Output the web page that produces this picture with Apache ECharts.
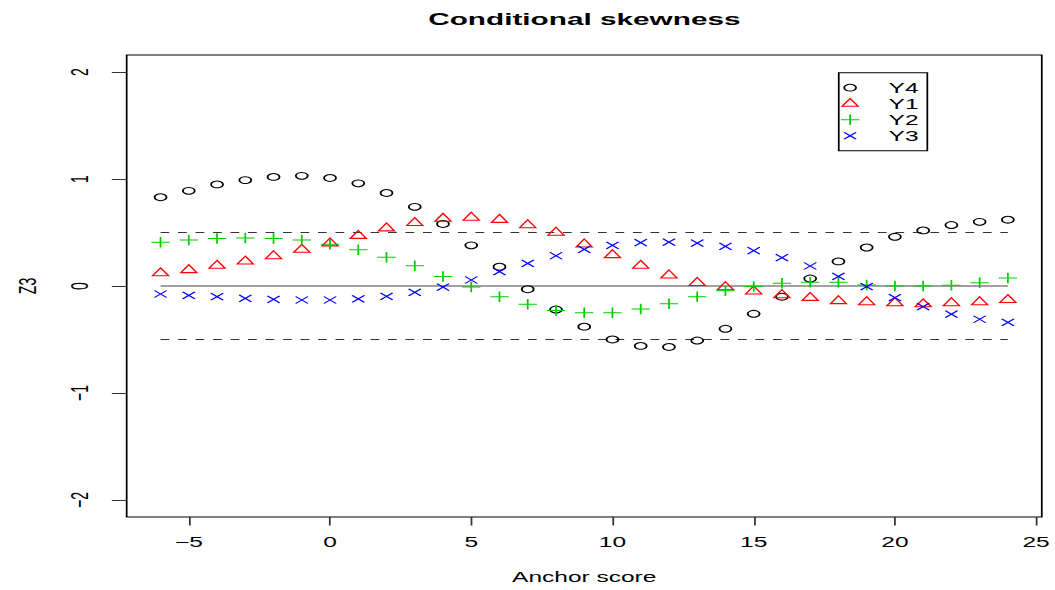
<!DOCTYPE html>
<html><head><meta charset="utf-8">
<script src="https://cdn.jsdelivr.net/npm/echarts@6/dist/echarts.min.js"></script>
<style>
html,body{margin:0;padding:0;background:#fff;overflow:hidden;width:1055px;height:590px}
#wrap{width:1055px;height:590px;overflow:hidden;position:relative}
#chart{width:603px;height:590px;transform:scaleX(1.749585);transform-origin:0 0;position:absolute;left:0;top:0}
</style>
</head><body><div id="wrap"><div id="chart"></div></div>
<script>
// ---- data ----
const anchors = [-6,-5,-4,-3,-2,-1,0,1,2,3,4,5,6,7,8,9,10,11,12,13,14,15,16,17,18,19,20,21,22,23,24];
const Y4 = [0.83,0.89,0.95,0.99,1.02,1.03,1.01,0.96,0.87,0.74,0.58,0.38,0.18,-0.03,-0.22,-0.38,-0.50,-0.56,-0.57,-0.51,-0.40,-0.26,-0.10,0.07,0.23,0.36,0.46,0.52,0.57,0.60,0.62];
const Y1 = [0.12,0.15,0.19,0.23,0.28,0.34,0.40,0.47,0.54,0.59,0.63,0.64,0.62,0.57,0.50,0.39,0.29,0.19,0.10,0.03,-0.01,-0.05,-0.085,-0.11,-0.14,-0.15,-0.16,-0.17,-0.16,-0.15,-0.13];
const Y2 = [0.41,0.43,0.445,0.45,0.445,0.43,0.39,0.34,0.27,0.19,0.09,-0.01,-0.10,-0.17,-0.23,-0.25,-0.25,-0.215,-0.165,-0.10,-0.045,-0.005,0.025,0.034,0.034,0.01,0.0,0.0,0.006,0.03,0.075];
const Y3 = [-0.075,-0.087,-0.10,-0.115,-0.125,-0.131,-0.131,-0.121,-0.097,-0.059,-0.01,0.056,0.134,0.212,0.283,0.343,0.38,0.405,0.41,0.40,0.37,0.33,0.265,0.187,0.09,-0.006,-0.109,-0.193,-0.263,-0.311,-0.34];
const refSolid = [0];
const refDashed = [0.5, -0.5];
const xTicks = [-5,0,5,10,15,20,25];
const yTicks = [-2,-1,0,1,2];
const seriesNames = ['Y4','Y1','Y2','Y3'];

// ---- rendering ----
const FONT = 'Liberation Sans';
const chart = echarts.init(document.getElementById('chart'), null, {renderer:'svg'});
const pts = vals => anchors.map((x,i)=>[x, vals[i]]);
const xFirst = anchors[0], xLast = anchors[anchors.length-1];
const fmt = v => (v < 0 ? '\u2212' + Math.abs(v) : String(v));
const clear = 'rgba(0,0,0,0)';

const triPath = 'path://M0,1.555M0,-1.555L1.347,0.777L-1.347,0.777Z';
const plusPath = 'path://M-1,0L1,0M0,-1L0,1';
const crossPath = 'path://M-1,-1L1,1M-1,1L1,-1';

const legCircle = 'path://M0,0M12,12M9.4,6A3.4,3.4,0,1,1,2.6,6A3.4,3.4,0,1,1,9.4,6Z';
const legTri = 'path://M0,0M12,12M6,0.71L10.58,8.64L1.42,8.64Z';
const legPlus = 'path://M0,0M12,12M0.75,6L11.25,6M6,0.75L6,11.25';
const legCross = 'path://M0,0M12,12M2.6,2.6L9.4,9.4M2.6,9.4L9.4,2.6';

const colors = {Y4:'#000000', Y1:'#FF0000', Y2:'#00CD00', Y3:'#0000FF'};

function refLine(level, dashed){
  return {type:'line', data:[[xFirst, level],[xLast, level]], symbol:'none', silent:true,
    lineStyle:{color: dashed ? '#333333' : '#444444', width:1, type: dashed ? [5,5] : 'solid'},
    emphasis:{disabled:true}, z:1};
}
function scat(name, vals, symbol, size){
  return {type:'scatter', name, data:pts(vals), symbol, symbolSize:size, silent:true,
    itemStyle:{color:clear, borderColor:colors[name], borderWidth:1, opacity:1},
    emphasis:{disabled:true}, z:3};
}

chart.setOption({
  animation:false,
  title:{text:'Conditional skewness', left:334, top:11, textAlign:'center', padding:0,
    textStyle:{fontFamily:FONT, fontSize:17, fontWeight:'bold', color:'#000'}},
  grid:{left:72.4, right:7.4, top:55, bottom:73, show:true, borderColor:'#000', borderWidth:1, backgroundColor:'transparent'},
  legend:{orient:'vertical', left:479.4, top:72.7, padding:[7,5,7,0], itemWidth:22, itemHeight:12, itemGap:0,
    borderColor:'#000', borderWidth:1, selectedMode:false,
    textStyle:{fontFamily:FONT, fontSize:14, color:'#000', lineHeight:16, padding:[0,0,0,6]},
    data:[
      {name:'Y4', icon:legCircle, itemStyle:{color:clear, borderColor:colors.Y4, borderWidth:1}},
      {name:'Y1', icon:legTri, itemStyle:{color:clear, borderColor:colors.Y1, borderWidth:1}},
      {name:'Y2', icon:legPlus, itemStyle:{color:clear, borderColor:colors.Y2, borderWidth:1}},
      {name:'Y3', icon:legCross, itemStyle:{color:clear, borderColor:colors.Y3, borderWidth:1}}
    ]},
  xAxis:{type:'value', min:-7.2, max:25.2, name:'Anchor score', nameLocation:'middle', nameGap:53,
    nameTextStyle:{fontFamily:FONT, fontSize:14, color:'#000'},
    axisLine:{show:false, onZero:false}, splitLine:{show:false},
    axisTick:{show:true, inside:false, length:8.5, customValues:xTicks, lineStyle:{color:'#333', width:1}},
    axisLabel:{customValues:xTicks, margin:18, fontFamily:FONT, fontSize:14, color:'#000', formatter:fmt}},
  yAxis:{type:'value', min:-2.16, max:2.16, name:'Z3', nameLocation:'middle', nameGap:50,
    nameTextStyle:{fontFamily:FONT, fontSize:14, color:'#000'},
    axisLine:{show:false, onZero:false}, splitLine:{show:false},
    axisTick:{show:true, inside:false, length:8.5, customValues:yTicks, lineStyle:{color:'#333', width:1}},
    axisLabel:{customValues:yTicks, margin:20, rotate:90, fontFamily:FONT, fontSize:14, color:'#000', formatter:fmt}},
  series:[
    ...refSolid.map(v=>refLine(v,false)),
    ...refDashed.map(v=>refLine(v,true)),
    scat('Y4', Y4, 'circle', 6.8),
    scat('Y1', Y1, triPath, [9.16, 10.58]),
    scat('Y2', Y2, plusPath, 10.5),
    scat('Y3', Y3, crossPath, 7)
  ]
});
</script>
</body></html>
